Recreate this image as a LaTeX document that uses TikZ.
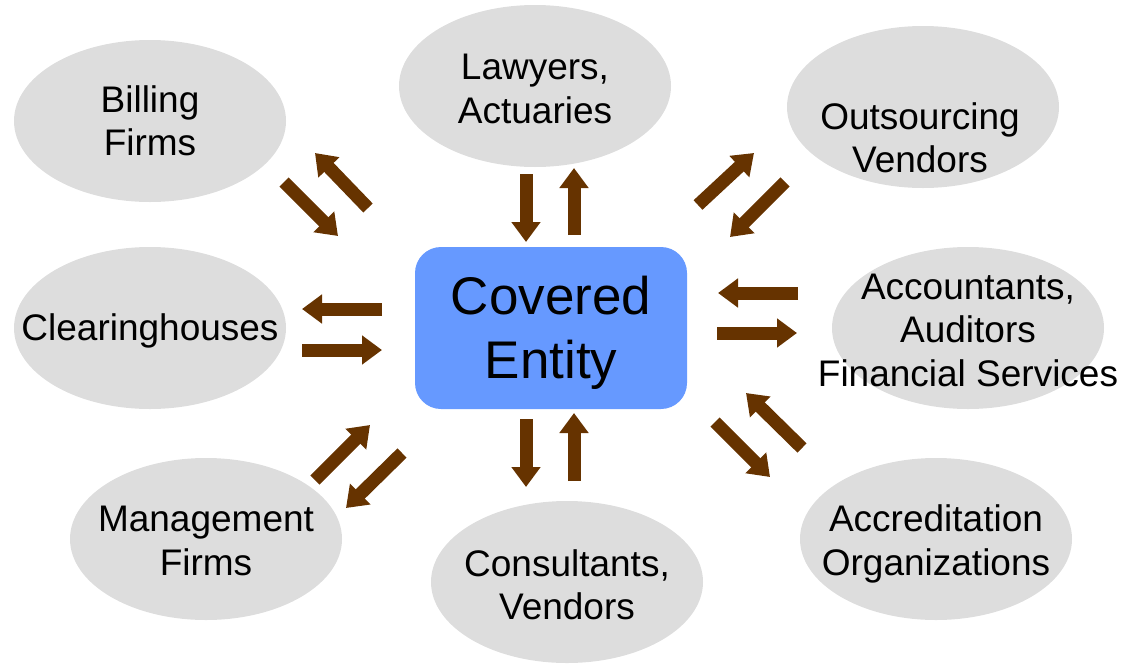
\documentclass[tikz,border=0pt]{standalone}
\usepackage{fontspec}
\setmainfont{Liberation Sans}
\usetikzlibrary{arrows.meta, shapes.geometric}

\definecolor{partygray}{HTML}{DDDDDD}
\definecolor{entityblue}{HTML}{6699FF}
\definecolor{flowbrown}{HTML}{663300}

\begin{document}
\begin{tikzpicture}[
    x=1pt, y=-1pt,
    party/.style={
        ellipse, fill=partygray, inner sep=0pt,
        minimum width=272pt, minimum height=162pt
    },
    partytext/.style={
        align=center, inner sep=0pt, font=\fontsize{37}{43.5}\selectfont
    },
    entity/.style={
        rectangle, rounded corners=26pt, fill=entityblue,
        minimum width=272pt, minimum height=162pt
    },
    entitytext/.style={
        align=center, inner sep=0pt, font=\fontsize{53}{64}\selectfont
    },
    flow/.style={
        draw=flowbrown, line width=13pt,
        -{Triangle[width=28pt, length=20pt]}
    },
    ]
    \useasboundingbox (0,0) rectangle (1134,664);

    % the parties round the covered entity
    \node[party] (billing) at (150,121) {};
    \node[party] (lawyers) at (535,86) {};
    \node[party] (outsourcing) at (923,107) {};
    \node[party] (clearing) at (150,328) {};
    \node[party] (accountants) at (968,328) {};
    \node[party] (management) at (206,539) {};
    \node[party] (consultants) at (567,582) {};
    \node[party] (accreditation) at (936,539) {};

    \node[partytext] (billing-t) at (billing) {Billing\\Firms};
    \node[partytext] (lawyers-t) at ([yshift=-3pt]lawyers) {Lawyers,\\Actuaries};
    \node[partytext] (outsourcing-t) at ([xshift=-3pt, yshift=-31pt]outsourcing) {Outsourcing\\Vendors};
    \node[partytext] (clearing-t) at ([yshift=-3pt]clearing) {Clearinghouses};
    \node[partytext] (accountants-t) at ([yshift=-2pt]accountants) {Accountants,\\Auditors\\Financial Services};
    \node[partytext] (management-t) at ([yshift=-2pt]management) {Management\\Firms};
    \node[partytext] (consultants-t) at ([yshift=-3pt]consultants) {Consultants,\\Vendors};
    \node[partytext] (accreditation-t) at ([yshift=-5pt]accreditation) {Accreditation\\Organizations};

    \node[entity] (entity) at (551,328) {};
    \node[entitytext] (entity-t) at ([yshift=-5pt]entity) {Covered\\Entity};

    % arrow ends
    \coordinate (billing-a) at (284,182);   \coordinate (billing-b) at (338,236);
    \coordinate (billing-c) at (368,208);   \coordinate (billing-d) at (315,153);
    \coordinate (lawyers-a) at (526,174);   \coordinate (lawyers-b) at (526,242);
    \coordinate (lawyers-c) at (574,235);   \coordinate (lawyers-d) at (574,168);
    \coordinate (outsourcing-a) at (698,205); \coordinate (outsourcing-b) at (754,153);
    \coordinate (outsourcing-c) at (785,182); \coordinate (outsourcing-d) at (730,237);
    \coordinate (clearing-a) at (382,309);  \coordinate (clearing-b) at (302,309);
    \coordinate (clearing-c) at (302,350);  \coordinate (clearing-d) at (382,350);
    \coordinate (accountants-a) at (798,293); \coordinate (accountants-b) at (718,293);
    \coordinate (accountants-c) at (717,333); \coordinate (accountants-d) at (797,333);
    \coordinate (management-a) at (315,480); \coordinate (management-b) at (370,425);
    \coordinate (management-c) at (402,453); \coordinate (management-d) at (346,508);
    \coordinate (consultants-a) at (526,419); \coordinate (consultants-b) at (526,487);
    \coordinate (consultants-c) at (574,481); \coordinate (consultants-d) at (574,413);
    \coordinate (accreditation-a) at (715,422); \coordinate (accreditation-b) at (770,477);
    \coordinate (accreditation-c) at (802,448); \coordinate (accreditation-d) at (746,393);

    \foreach \p in {billing, lawyers, outsourcing, clearing,
                    accountants, management, consultants, accreditation} {
        \draw[flow] (\p-a) -- (\p-b);
        \draw[flow] (\p-c) -- (\p-d);
    }
\end{tikzpicture}
\end{document}
